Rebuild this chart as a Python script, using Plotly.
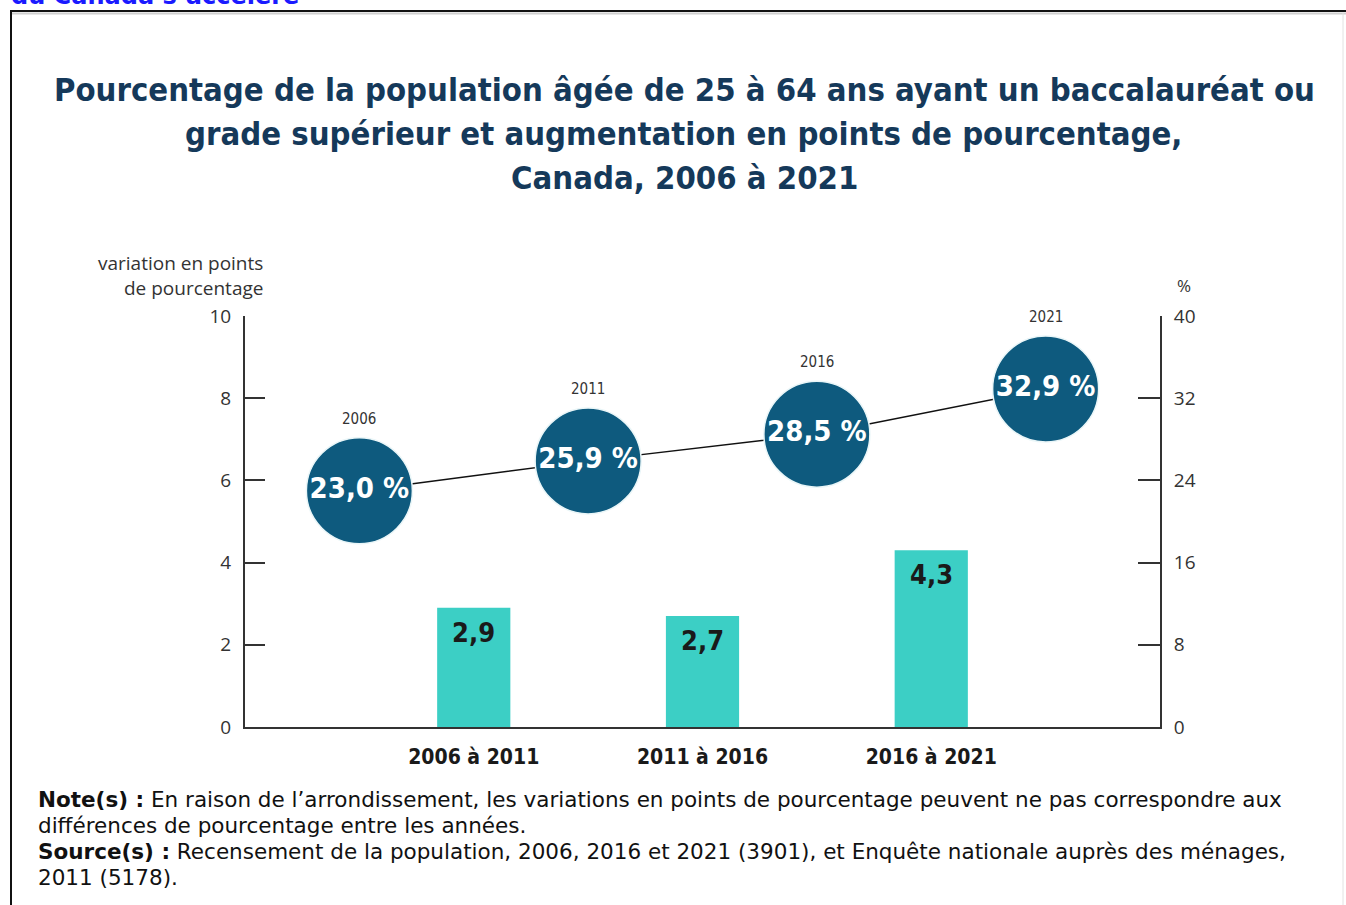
import plotly.graph_objects as go

# Census years and share (%) of 25-64 year-olds holding a bachelor's degree or higher
years = ["2006", "2011", "2016", "2021"]
pct = [23.0, 25.9, 28.5, 32.9]

# Percentage-point change between consecutive censuses
periods = ["2006 à 2011", "2011 à 2016", "2016 à 2021"]
change = [2.9, 2.7, 4.3]

left_ticks = [0, 2, 4, 6, 8, 10]
right_ticks = [0, 8, 16, 24, 32, 40]

title_lines = [
    "Pourcentage de la population âgée de 25 à 64 ans ayant un baccalauréat ou",
    "grade supérieur et augmentation en points de pourcentage,",
    "Canada, 2006 à 2021",
]
note_lines = [
    ("Note(s) :", " En raison de l’arrondissement, les variations en points de pourcentage peuvent ne pas correspondre aux"),
    ("", "différences de pourcentage entre les années."),
    ("Source(s) :", " Recensement de la population, 2006, 2016 et 2021 (3901), et Enquête nationale auprès des ménages,"),
    ("", "2011 (5178)."),
]


def fr(v):
    return f"{v:.1f}".replace(".", ",")


# Page and plot-area geometry (pixels)
PW, PH = 1346, 905
L, R, T, B = 245, 1160, 316, 727


def px_x(px):
    return (px - L) / (R - L)


def px_y(py):
    return (B - py) / (B - T)


COND = "DejaVu Sans Condensed, Arial Narrow, sans-serif"
BODY = "Open Sans, Noto Sans, sans-serif"
NOTE = "DejaVu Sans, Verdana, sans-serif"
NAVY = "#15395a"
CIRCLE = "#0e5a7e"
TEAL = "#3ccfc5"
AXIS = "#333333"

year_x = list(range(len(years)))
period_x = [i + 0.5 for i in range(len(periods))]

fig = go.Figure()

fig.add_trace(go.Bar(
    x=period_x, y=change, width=0.32,
    marker=dict(color=TEAL, line=dict(width=0)),
    yaxis="y", hoverinfo="skip",
))

fig.add_trace(go.Scatter(
    x=year_x, y=pct, yaxis="y2",
    mode="lines+markers+text",
    line=dict(color="#111111", width=1.5),
    marker=dict(size=106, color=CIRCLE, line=dict(color="#eaf6f8", width=1.5)),
    text=[fr(v) + " %" for v in pct],
    textposition="middle center",
    textfont=dict(family=COND, size=29, color="white", weight="bold"),
    cliponaxis=False, hoverinfo="skip",
))

annotations = []

# Year labels above each circle
for x, y, lab in zip(year_x, pct, years):
    annotations.append(dict(
        x=x, y=y, xref="x", yref="y2", text=lab, showarrow=False,
        yshift=72, font=dict(family=COND, size=15, color=AXIS),
    ))

# Value labels inside the top of each bar
for x, y in zip(period_x, change):
    annotations.append(dict(
        x=x, y=y, xref="x", yref="y", text=fr(y), showarrow=False,
        yanchor="top", yshift=-7,
        font=dict(family=COND, size=27, color="#1a1a1a", weight="bold"),
    ))

# Title
for i, line in enumerate(title_lines):
    annotations.append(dict(
        x=px_x(684), y=px_y(90 + i * 44), xref="paper", yref="paper",
        text=line, showarrow=False, xanchor="center", yanchor="middle",
        font=dict(family=COND, size=32.6, color=NAVY, weight="bold"),
    ))

# Axis titles
annotations.append(dict(
    x=px_x(265), y=px_y(263), xref="paper", yref="paper",
    text="variation en points", showarrow=False, xanchor="right", yanchor="middle",
    font=dict(family=BODY, size=19, color=AXIS),
))
annotations.append(dict(
    x=px_x(265), y=px_y(288), xref="paper", yref="paper",
    text="de pourcentage", showarrow=False, xanchor="right", yanchor="middle",
    font=dict(family=BODY, size=19, color=AXIS),
))
annotations.append(dict(
    x=px_x(1184), y=px_y(285), xref="paper", yref="paper",
    text="%", showarrow=False, xanchor="center", yanchor="middle",
    font=dict(family=BODY, size=17, color=AXIS),
))

# Notes and sources
for i, (bold, rest) in enumerate(note_lines):
    txt = (f"<b>{bold}</b>" if bold else "") + rest
    annotations.append(dict(
        x=px_x(36), y=px_y(799 + i * 26), xref="paper", yref="paper",
        text=txt, showarrow=False, xanchor="left", yanchor="middle",
        font=dict(family=NOTE, size=21.5, color="#111111"),
    ))

# Heading text running off the top of the page
annotations.append(dict(
    x=px_x(9), y=px_y(-3.5), xref="paper", yref="paper",
    text="<b>du Canada s’accélère</b>", showarrow=False,
    xanchor="left", yanchor="middle",
    font=dict(family="DejaVu Sans, Verdana, sans-serif", size=24, color="#1a1aff"),
))

shapes = [
    # frame around the figure
    dict(type="line", xref="paper", yref="paper", x0=px_x(10), x1=px_x(1350),
         y0=px_y(11), y1=px_y(11), line=dict(color="#111111", width=2)),
    dict(type="line", xref="paper", yref="paper", x0=px_x(10), x1=px_x(1350),
         y0=px_y(13.5), y1=px_y(13.5), line=dict(color="#cfcfcf", width=2)),
    dict(type="line", xref="paper", yref="paper", x0=px_x(11), x1=px_x(11),
         y0=px_y(10), y1=px_y(910), line=dict(color="#111111", width=2)),
    dict(type="line", xref="paper", yref="paper", x0=px_x(1343), x1=px_x(1343),
         y0=px_y(12), y1=px_y(910), line=dict(color="#e2e2e2", width=1)),
]

fig.update_layout(
    width=PW, height=PH,
    margin=dict(l=L, r=PW - R, t=T, b=PH - B, autoexpand=False),
    paper_bgcolor="white", plot_bgcolor="white",
    showlegend=False,
    xaxis=dict(
        range=[-0.5, 3.5], tickvals=period_x, ticktext=periods,
        showgrid=False, zeroline=False, showline=True,
        linecolor=AXIS, linewidth=2, ticks="",
        ticklabelstandoff=10,
        tickfont=dict(family=COND, size=21, color="#1a1a1a", weight="bold"),
        fixedrange=True,
    ),
    yaxis=dict(
        range=[0, 10], tickvals=left_ticks, showgrid=False, zeroline=False,
        showline=True, linecolor=AXIS, linewidth=2,
        ticks="inside", ticklen=20, tickwidth=2, tickcolor=AXIS,
        ticklabelstandoff=8,
        tickfont=dict(family=BODY, size=19, color=AXIS),
        fixedrange=True,
    ),
    yaxis2=dict(
        range=[0, 40], tickvals=right_ticks, overlaying="y", side="right",
        showgrid=False, zeroline=False, showline=True,
        linecolor=AXIS, linewidth=2,
        ticks="inside", ticklen=22, tickwidth=2, tickcolor=AXIS,
        ticklabelstandoff=8,
        tickfont=dict(family=BODY, size=19, color=AXIS),
        fixedrange=True,
    ),
    annotations=annotations,
    shapes=shapes,
)

fig.write_html("out.html")
